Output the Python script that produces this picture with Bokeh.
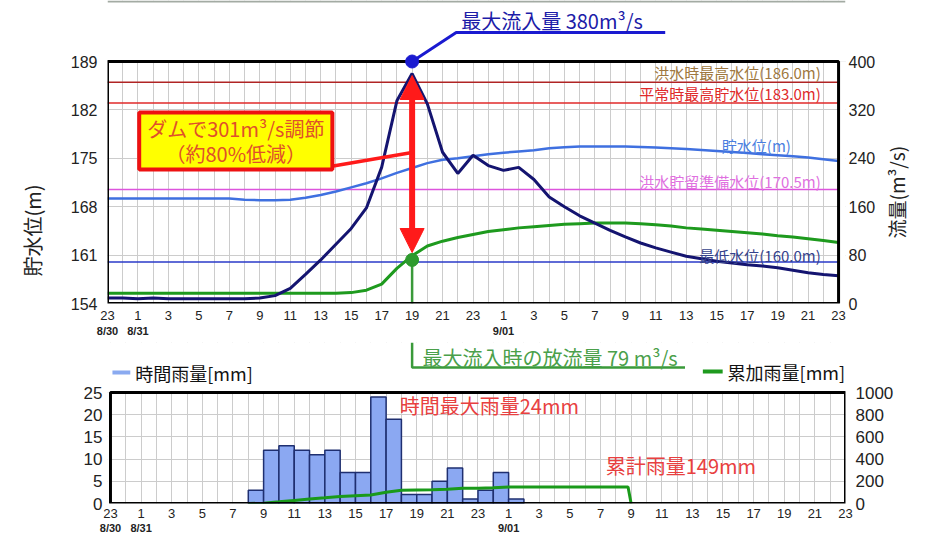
import math
from bokeh.plotting import figure
from bokeh.models import (Range1d, LinearAxis, FixedTicker, Label, Arrow, NormalHead,
                          BoxAnnotation)
from bokeh.layouts import column
from bokeh.embed import file_html
from bokeh.resources import INLINE

# ---------------- data ----------------
hours = list(range(49))                      # 0 = 8/30 23:00 ... 48 = 9/01 23:00
tick_hours = list(range(0, 49, 2))
tick_labels = ["23", "1", "3", "5", "7", "9", "11", "13", "15", "17", "19", "21",
               "23", "1", "3", "5", "7", "9", "11", "13", "15", "17", "19", "21", "23"]
date_hours = [0, 2, 26]
date_labels = ["8/30", "8/31", "9/01"]

level_ticks = [154, 161, 168, 175, 182, 189]
flow_ticks = [0, 80, 160, 240, 320, 400]
rain_ticks = [0, 5, 10, 15, 20, 25]
cum_ticks = [0, 200, 400, 600, 800, 1000]

water_level = [169.2, 169.2, 169.2, 169.2, 169.2, 169.2, 169.2, 169.2, 169.2,
               169.0, 168.95, 168.95, 169.0, 169.3, 169.7, 170.2, 170.8, 171.4,
               172.1, 172.9, 173.6, 174.3, 174.8, 175.0, 175.3, 175.6, 175.8,
               176.0, 176.15, 176.45, 176.6, 176.7, 176.7, 176.7, 176.7, 176.65,
               176.55, 176.45, 176.35, 176.2, 176.05, 175.9, 175.75, 175.6, 175.45,
               175.3, 175.1, 174.85, 174.6]

inflow = [9, 9, 8, 9, 8, 8, 8, 8, 8, 8, 9, 13, 25, 48, 72, 98, 124, 158, 225, 335,
          380, 330, 250, 215, 245, 228, 220, 225, 205, 176, 160, 145, 133, 121, 110,
          100, 92, 85, 78, 74, 70, 67, 64, 62, 59, 55, 51, 48, 46]

outflow = [17, 17, 17, 17, 17, 17, 17, 17, 17, 17, 17, 17, 17, 17, 17, 17, 18, 22,
           32, 58, 79, 95, 103, 109, 114, 119, 122, 125, 127, 129, 131, 132, 133,
           133, 133, 132, 130, 128, 125, 123, 121, 119, 117, 115, 112, 110, 107, 104, 101]

# hourly rainfall; index i = bar from hour i to hour i+1
rain_hourly = [0, 0, 0, 0, 0, 0, 0, 0, 0, 3, 12, 13, 12, 11, 12, 7, 7, 24, 19, 2, 2,
               5, 8, 1, 3, 7, 1, 0, 0, 0, 0, 0, 0, 0, 0, 0, 0, 0, 0, 0, 0, 0, 0, 0,
               0, 0, 0, 0]

cum_hours = [9, 10, 11, 12, 13, 14, 15, 16, 17, 18, 19, 20, 21, 22, 23, 24, 25, 26,
             27, 28, 29, 30, 31, 32, 33, 33.8, 34]
cum_rain = [0, 3, 15, 28, 40, 51, 63, 70, 77, 101, 120, 122, 124, 129, 137, 138, 141,
            148, 149, 149, 149, 149, 149, 149, 149, 149, 0]

ref_levels = [186.0, 183.0, 170.5, 160.0]
ref_names = ["洪水時最高水位(186.0m)", "平常時最高貯水位(183.0m)",
             "洪水貯留準備水位(170.5m)", "最低水位(160.0m)"]
ref_line_colors = ["#b02424", "#e02a2a", "#dd55dd", "#2a3ac8"]
ref_text_colors = ["#a07840", "#e02a2a", "#e070e0", "#34428c"]

peak_inflow = 380
peak_hour = 20
peak_outflow_marker = 72

# ---------------- geometry helpers (page pixels -> data) ----------------
JP = "Noto Sans CJK JP"
NUM = "Liberation Sans"
W = 926
FR_L, FR_R = 105, 850                           # common frame of both figures
F1_L, F1_R, F1_T, F1_B = 105, 843, 61, 303      # top chart box
F2_L, F2_R, F2_T, F2_B = 108, 850, 392, 503     # rain chart box
H_A = 342                                       # top figure (page 0..342)
H_C = 541 - H_A                                 # rain figure (page 342..541)


def tx(px):
    return (px - F1_L) / (F1_R - F1_L) * 48


def ty(py):
    return 189 - (py - F1_T) / (F1_B - F1_T) * 35


def f2l(f):
    return 154 + f * 35 / 400


def l2f(v):
    return (v - 154) * 400 / 35


def bx(px):
    return (px - F2_L) / (F2_R - F2_L) * 48


def by(py):
    return (F2_B - py) / (F2_B - F2_T) * 25


def plain_axis(ax):
    ax.axis_line_color = None
    ax.major_tick_line_color = None
    ax.minor_tick_line_color = None
    ax.major_tick_out = 0
    ax.major_tick_in = 0
    ax.minor_tick_out = 0
    ax.minor_tick_in = 0
    ax.major_label_text_font = NUM
    ax.major_label_text_color = "#222222"


def jlabel(p, x, y, text, size, color, align="left", angle=0.0):
    p.add_layout(Label(x=x, y=y, text=text, text_align=align, text_baseline="middle",
                       text_font=JP, text_font_size=size, text_color=color, angle=angle))


def cover(p, left, right, bottom, top):
    p.add_layout(BoxAnnotation(left=left, right=right, bottom=bottom, top=top,
                               fill_color="white", fill_alpha=1, line_alpha=0,
                               level="underlay"))


def hide_title(p):
    if p.title is not None:
        p.title.visible = False


def side_title(p, text, side, py, standoff, size):
    """Vertical (bottom-to-top) axis title, drawn as the single rotated tick label of
    a label-only axis on the given side; 'lab' range is minus the page y."""
    ax = LinearAxis(y_range_name="lab", ticker=FixedTicker(ticks=[-py]),
                    major_label_overrides={-py: text}, major_label_orientation=math.pi / 2,
                    major_label_standoff=standoff)
    plain_axis(ax)
    ax.major_label_text_font = JP
    ax.major_label_text_font_size = size
    ax.major_label_text_color = "#222222"
    p.add_layout(ax, side)


# ---------------- top chart ----------------
Y1_TOP = ty(0)
pa = figure(width=W, height=H_A, x_range=Range1d(0, tx(FR_R)),
            y_range=Range1d(154, Y1_TOP), output_backend="svg", toolbar_location=None,
            min_border_left=FR_L, min_border_right=W - FR_R, min_border_top=0,
            min_border_bottom=H_A - F1_B)
hide_title(pa)
pa.extra_y_ranges = {"flow": Range1d(0, l2f(Y1_TOP)),
                     "lab": Range1d(-F1_B, 0)}      # minus page-pixel y, for titles
pa.add_layout(LinearAxis(y_range_name="flow", ticker=FixedTicker(ticks=flow_ticks),
                         major_label_standoff=3), "right")
pa.xaxis.ticker = FixedTicker(ticks=tick_hours)
pa.xaxis.major_label_overrides = {h: s for h, s in zip(tick_hours, tick_labels)}
pa.xaxis.major_label_standoff = 7
pa.yaxis[0].ticker = FixedTicker(ticks=level_ticks)
pa.yaxis[0].major_label_standoff = 10
for ax in pa.axis:
    plain_axis(ax)
pa.xaxis.major_label_text_font_size = "13px"
pa.yaxis.major_label_text_font_size = "16px"

date_ax_a = LinearAxis(ticker=FixedTicker(ticks=date_hours),
                       major_label_overrides={h: d for h, d in zip(date_hours, date_labels)},
                       major_label_standoff=2)
plain_axis(date_ax_a)
date_ax_a.major_label_text_font_size = "11px"
date_ax_a.major_label_text_font_style = "bold"
pa.add_layout(date_ax_a, "below")

# green leader continuing below the chart (an axis rule at x = peak hour)
lead_ax = LinearAxis(fixed_location=peak_hour, bounds=(ty(H_A), 154),
                     ticker=FixedTicker(ticks=[]), major_label_text_font_size="0px",
                     major_label_standoff=0)
plain_axis(lead_ax)
lead_ax.axis_line_color = "#3a9a3a"
lead_ax.axis_line_width = 2.5
pa.add_layout(lead_ax, "left")

# axis titles (both read bottom-to-top)
side_title(pa, "貯水位(m)", "left", 184, 35, "20px")
side_title(pa, "流量(m³/s)", "right", 238, 18, "19px")

pa.xgrid.ticker = FixedTicker(ticks=hours)
pa.ygrid.ticker = FixedTicker(ticks=level_ticks)
pa.grid.grid_line_color = "#cccccc"
pa.outline_line_color = None
cover(pa, 0, tx(FR_R), 189, Y1_TOP)
cover(pa, 48, tx(FR_R), 154, 189)
pa.add_layout(BoxAnnotation(left=0, right=tx(FR_R), top=Y1_TOP, bottom=ty(2),
                            fill_color="#a3aba3", fill_alpha=1, line_alpha=0))

# reference water levels
for lv, lc in zip(ref_levels, ref_line_colors):
    pa.line([hours[0], hours[-1]], [lv, lv], line_color=lc, line_width=1.5)
for name, tc, py in zip(ref_names, ref_text_colors, [72, 93, 181, 255]):
    jlabel(pa, tx(825), ty(py), name, "15px", tc, align="right")
jlabel(pa, tx(760), ty(145), "貯水位(m)", "15px", "#4a7ee0", align="center")

pa.line(hours, water_level, line_color="#3f70e0", line_width=2.5)
pa.line(hours, outflow, y_range_name="flow", line_color="#1e9a1e", line_width=3)
pa.line(hours, inflow, y_range_name="flow", line_color="#141470", line_width=3)

pa.add_layout(BoxAnnotation(left=0, right=48, bottom=154, top=189, fill_alpha=0,
                            line_color="black", line_alpha=1, line_width=3))

# outflow marker + leader
pa.line([peak_hour, peak_hour], [f2l(peak_outflow_marker), 154], line_color="#3a9a3a",
        line_width=2.5)
pa.scatter([peak_hour], [peak_outflow_marker], y_range_name="flow", size=13,
           fill_color="#2e9a2e", line_color="#2e9a2e")

# inflow peak marker (on the top edge of the chart) + leader + caption
pa.line([peak_hour, tx(457), tx(668)], [189, ty(32), ty(32)], line_color="#1a1ad0",
        line_width=3)
dot = pa.scatter([peak_hour], [flow_ticks[-1]], y_range_name="flow", size=13,
                 fill_color="#1a1ad0", line_color="#1a1ad0")
dot.level = "overlay"
jlabel(pa, tx(462), ty(20), f"最大流入量 {peak_inflow}m³/s", "20px", "#1c1ca8")

# red double arrow and callout
pa.add_layout(Arrow(x_start=peak_hour, y_start=ty(252), x_end=peak_hour, y_end=ty(75),
                    start=NormalHead(size=24, fill_color="#ff1a1a", line_color="#ff1a1a"),
                    end=NormalHead(size=24, fill_color="#ff1a1a", line_color="#ff1a1a"),
                    line_color="#ff1a1a", line_width=6))
pa.add_layout(Arrow(x_start=tx(330), y_start=ty(166), x_end=peak_hour, y_end=ty(152),
                    end=None, line_color="#ff1a1a", line_width=3.5))
pa.add_layout(BoxAnnotation(left=tx(137), right=tx(332), top=ty(112), bottom=ty(169),
                            fill_color="#ffff00", fill_alpha=1, line_color="#ee1111",
                            line_alpha=1, line_width=4))
jlabel(pa, tx(234.5), ty(128), "ダムで301m³/s調節", "20px", "#e0502a", align="center")
jlabel(pa, tx(234.5), ty(153), "（約80%低減）", "20px", "#e0502a", align="center")

# ---------------- rain chart (with the strip above it) ----------------
Y2_TOP = by(H_A)
pc = figure(width=W, height=H_C, x_range=Range1d(bx(FR_L), 48), y_range=Range1d(0, Y2_TOP),
            output_backend="svg", toolbar_location=None,
            min_border_left=FR_L, min_border_right=W - FR_R, min_border_top=0,
            min_border_bottom=541 - F2_B)
hide_title(pc)
pc.extra_y_ranges = {"cum": Range1d(0, Y2_TOP * 40)}
pc.add_layout(LinearAxis(y_range_name="cum", ticker=FixedTicker(ticks=cum_ticks),
                         major_label_standoff=10), "right")
pc.xaxis.ticker = FixedTicker(ticks=tick_hours)
pc.xaxis.major_label_overrides = {h: s for h, s in zip(tick_hours, tick_labels)}
pc.xaxis.major_label_standoff = 5
pc.yaxis[0].ticker = FixedTicker(ticks=rain_ticks)
pc.yaxis[0].major_label_standoff = 5
for ax in pc.axis:
    plain_axis(ax)
pc.xaxis.major_label_text_font_size = "13px"
pc.yaxis.major_label_text_font_size = "17px"
date_ax_c = LinearAxis(ticker=FixedTicker(ticks=date_hours),
                       major_label_overrides={h: d for h, d in zip(date_hours, date_labels)},
                       major_label_standoff=1)
plain_axis(date_ax_c)
date_ax_c.major_label_text_font_size = "11px"
date_ax_c.major_label_text_font_style = "bold"
pc.add_layout(date_ax_c, "below")

pc.xgrid.ticker = FixedTicker(ticks=hours)
pc.ygrid.ticker = FixedTicker(ticks=rain_ticks)
pc.grid.grid_line_color = "#cccccc"
pc.outline_line_color = None
cover(pc, bx(FR_L), 48, 25, Y2_TOP)
cover(pc, bx(FR_L), 0, 0, 25)

bar_x = [i + 0.5 for i, r in enumerate(rain_hourly) if r > 0]
bar_top = [r for r in rain_hourly if r > 0]
pc.vbar(x=bar_x, width=1, top=bar_top, bottom=0, fill_color="#8ba8f2",
        line_color="#1f2f70", line_width=1.5)
pc.line(cum_hours, cum_rain, y_range_name="cum", line_color="#1a9a1a", line_width=3)
pc.add_layout(BoxAnnotation(left=0, right=48, bottom=0, top=25, fill_alpha=0,
                            line_color="black", line_alpha=1, line_width=3))

jlabel(pc, bx(400), by(405), "時間最大雨量24mm", "20px", "#e84040")
jlabel(pc, bx(608), by(465), "累計雨量149mm", "20px", "#e84040")

# green leader + caption for the outflow marker
gx = bx(F1_L + peak_hour * (F1_R - F1_L) / 48)
pc.line([gx, gx, bx(688)], [Y2_TOP, by(367), by(367)], line_color="#3a9a3a",
        line_width=2.5)
jlabel(pc, bx(423), by(357), "最大流入時の放流量 79 m³/s", "20px", "#4aa04a")

# legend rows
pc.line([bx(110), bx(128)], [by(372), by(372)], line_color="#8aaaf0", line_width=4)
jlabel(pc, bx(133), by(372), "時間雨量[mm]", "18px", "#111111")
pc.line([bx(706), bx(726)], [by(371), by(371)], line_color="#1e9a1e", line_width=4)
jlabel(pc, bx(731), by(371), "累加雨量[mm]", "18px", "#111111")

layout = column(pa, pc, spacing=0)
open("out.html", "w").write(file_html(layout, INLINE))
